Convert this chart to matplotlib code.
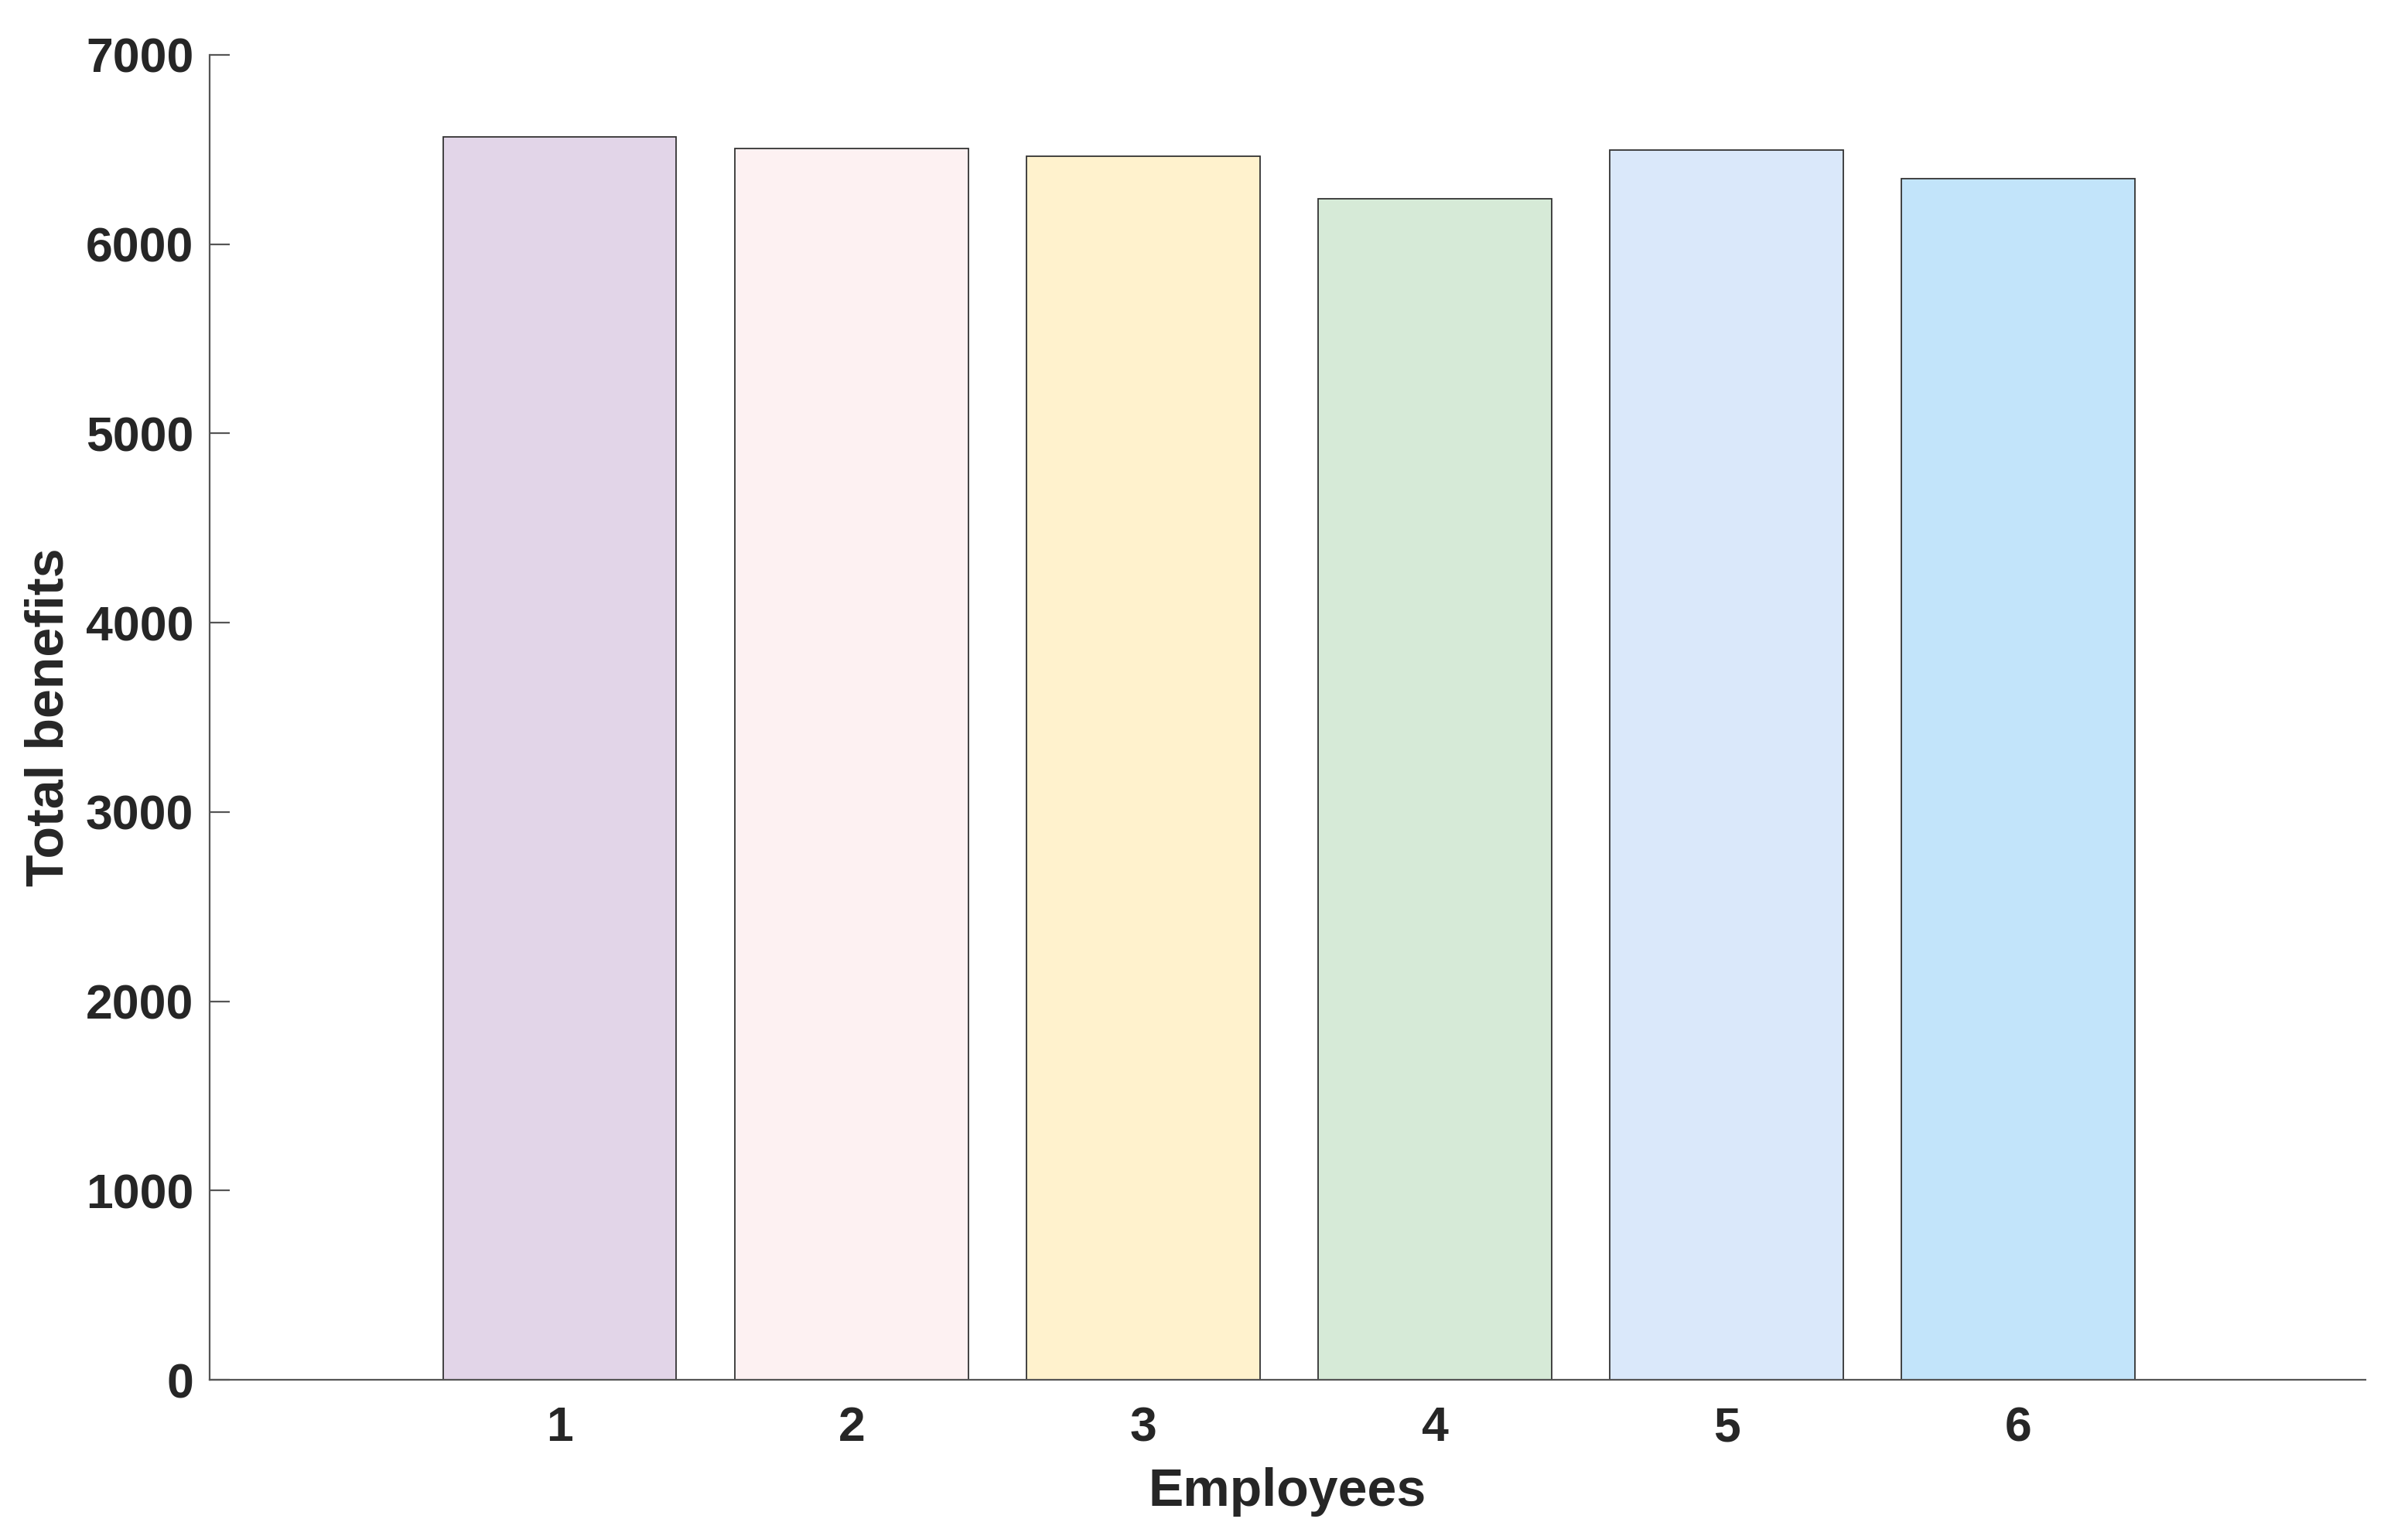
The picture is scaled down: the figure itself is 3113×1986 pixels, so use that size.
import numpy as np
import matplotlib
matplotlib.use("Agg")
import matplotlib.pyplot as plt

# data
employees = [1, 2, 3, 4, 5, 6]
total_benefits = [6566, 6507, 6466, 6238, 6499, 6345]
bar_colors = ["#E2D5E8", "#FDF1F2", "#FFF2CD", "#D6EAD7", "#DAE8FA", "#C2E4FA"]

plt.rcParams['font.family'] = ['Liberation Sans', 'DejaVu Sans']
plt.rcParams['font.weight'] = 'bold'
txt = "#262626"

fig = plt.figure(figsize=(31.13, 19.86), dpi=100)
ax = fig.add_axes([0.0871, 0.1017, 0.8952, 0.8626])

ax.bar(employees, total_benefits, width=0.8, color=bar_colors,
       edgecolor="#333333", linewidth=1.3)

ax.set_xlim(-0.2, 7.19)
ax.set_ylim(0, 7000)
ax.set_yticks(np.arange(0, 7001, 1000))
ax.set_xticks(employees)

for s in ["top", "right"]:
    ax.spines[s].set_visible(False)
for s in ["left", "bottom"]:
    ax.spines[s].set_color("#555555")
    ax.spines[s].set_linewidth(1.6)

ax.tick_params(axis="y", direction="in", length=19, width=1.6, color="#555555",
               labelsize=45, labelcolor=txt, pad=15)
ax.tick_params(axis="x", length=0, labelsize=45, labelcolor=txt, pad=24)
for lab in ax.get_xticklabels() + ax.get_yticklabels():
    lab.set_fontweight("bold")

ax.set_xlabel("Employees", fontsize=49, fontweight="bold", color=txt)
ax.set_ylabel("Total benefits", fontsize=49, fontweight="bold", color=txt)
ax.xaxis.set_label_coords(0.5, -0.066)
ax.yaxis.set_label_coords(-0.063, 0.5)

fig.savefig("out.png", dpi=100)
